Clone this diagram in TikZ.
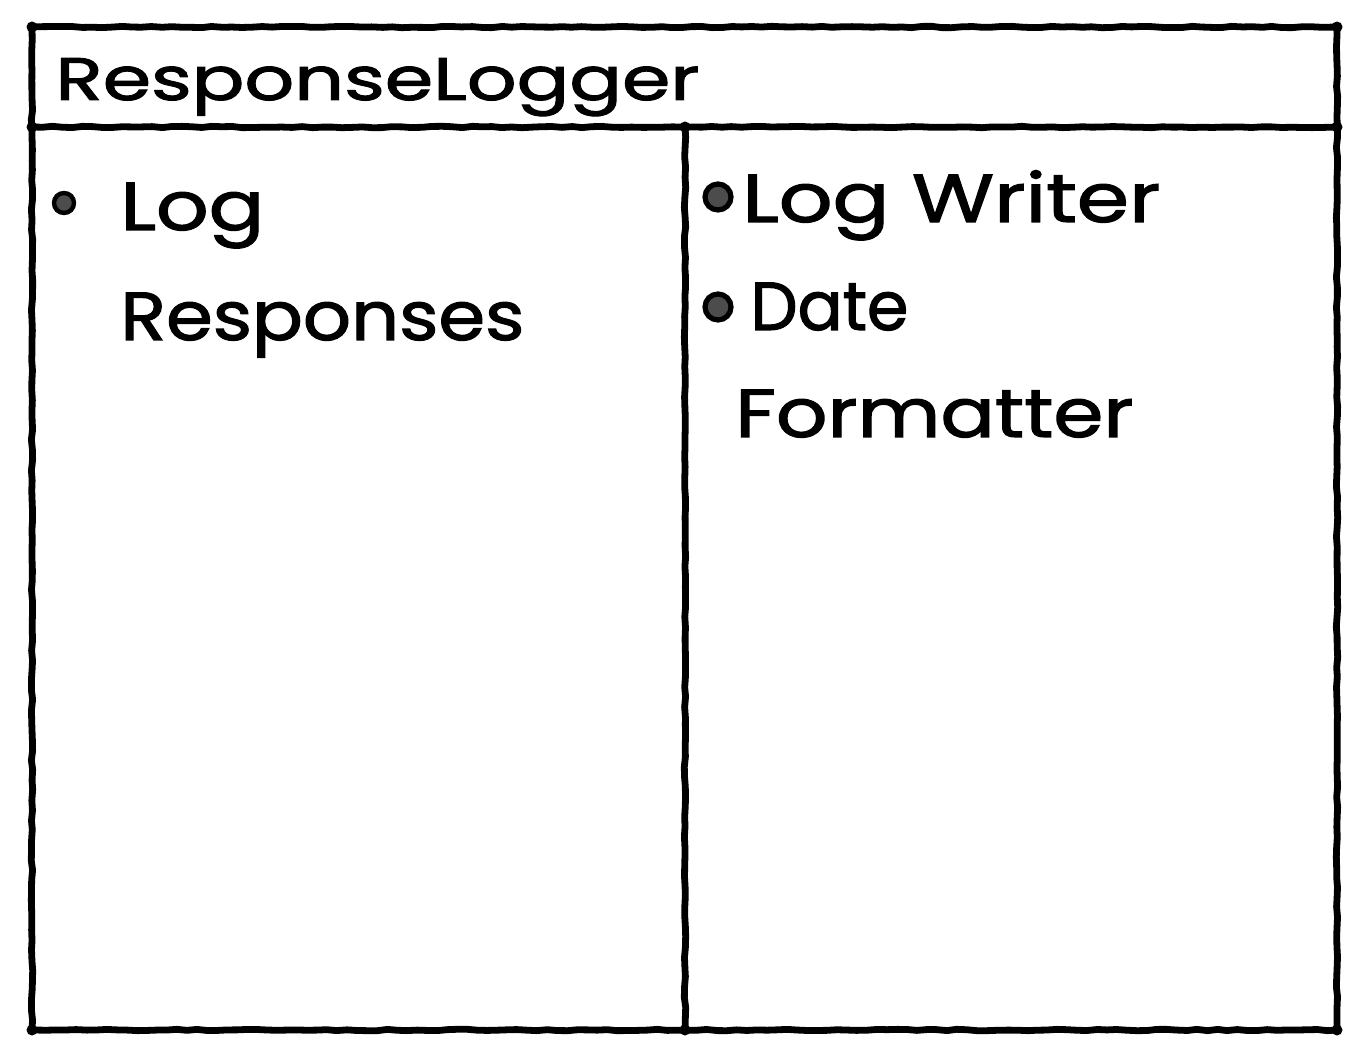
\documentclass[tikz,border=0pt]{standalone}
\usepackage{fontspec}
\setmainfont{Poppins}[FakeBold=1.6]
\usetikzlibrary{decorations.pathmorphing}
\tikzset{
  frame/.style={line width=3.4pt, line cap=round, line join=round,
    decorate, decoration={random steps, segment length=5pt, amplitude=0.35pt}},
  dot/.style={circle, fill=black, inner sep=0pt, minimum size=5.5pt},
  bul/.style={circle, draw=black, line width=2.6pt, fill=black!70, inner sep=0pt, minimum size=13pt},
  txt/.style={anchor=base west, inner sep=0pt, font=\fontsize{34pt}{40pt}\selectfont},
  hdr/.style={anchor=base west, inner sep=0pt, font=\fontsize{30pt}{36pt}\selectfont}
}
\begin{document}
\begin{tikzpicture}[x=0.5pt,y=-0.5pt]
\useasboundingbox[fill=white] (0,0) rectangle (1364,1058);
% corners
\coordinate (tl) at (32,27);
\coordinate (tr) at (1337,27);
\coordinate (bl) at (32,1030);
\coordinate (br) at (1337,1030);
\coordinate (hl) at (32,127);
\coordinate (hr) at (1337,127);
\coordinate (dt) at (685,127);
\coordinate (db) at (685,1030);
\draw[frame] (tl) -- (tr) -- (br) -- (bl) -- cycle;
\draw[frame] (hl) -- (hr);
\draw[frame] (dt) -- (db);
\foreach \c in {tl,tr,bl,br,hl,hr,dt,db} \node[dot] at (\c) {};
% header
\node[hdr] (title) at (55,100) {\resizebox{322pt}{\height}{ResponseLogger}};
% left column
\node[bul, minimum size=10pt, line width=2.2pt] (b1) at (64,203) {};
\node[txt] (log) at (120,230) {\resizebox{72pt}{\height}{Log}};
\node[txt] (resp) at (120,340) {\resizebox{202pt}{\height}{Responses}};
% right column
\node[bul] (b2) at (718,197) {};
\node[txt] (lw) at (742,222) {\resizebox{209pt}{\height}{Log Writer}};
\node[bul] (b3) at (718,307) {};
\node[txt] (date) at (750,330) {\resizebox{79pt}{\height}{Date}};
\node[txt] (fmt) at (735,437) {\resizebox{199pt}{\height}{Formatter}};
\end{tikzpicture}
\end{document}
